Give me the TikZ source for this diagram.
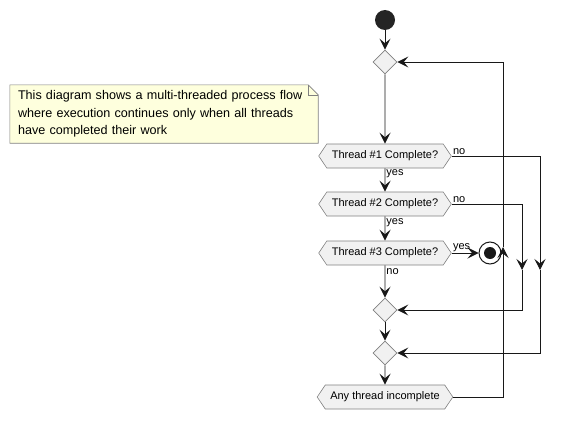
\documentclass[tikz,border=0pt]{standalone}
\usepackage{fontspec}
\setmainfont{Liberation Sans}
\usepackage{tikz}
\usetikzlibrary{backgrounds,shapes.geometric,shapes.symbols,arrows.meta}

\definecolor{ink}{HTML}{181818}
\definecolor{boxfill}{HTML}{F1F1F1}
\definecolor{boxline}{HTML}{808080}
\definecolor{notefill}{HTML}{FEFFDD}

\begin{document}
\begin{tikzpicture}[x=1pt, y=-1pt,
	flow/.style={draw=ink, line width=0.9pt, -{Stealth[length=11pt, width=11pt, inset=4.5pt]}},
	test/.style={signal, signal to=west and east, signal pointer angle=112, draw=boxline, fill=boxfill, line width=0.6pt, minimum height=24pt, inner xsep=5pt, inner ysep=0pt, font=\fontsize{11}{13}\selectfont},
	merge/.style={diamond, aspect=1, draw=boxline, fill=boxfill, line width=0.6pt, minimum width=24pt, minimum height=24pt, inner sep=0pt},
	startdot/.style={circle, fill=ink!95, minimum size=20pt, inner sep=0pt},
	stopring/.style={circle, draw=ink, line width=1pt, fill=white, minimum size=22pt, inner sep=0pt},
	tag/.style={inner sep=1pt, font=\fontsize{11}{13}\selectfont},
	note/.style={text width=292pt, inner xsep=8pt, align=left, minimum height=58pt, font=\fontsize{12.6}{17.5}\selectfont}
]

	\useasboundingbox (0,0) rectangle (564,420);

	\node[note] (info) at (164,114) {This diagram shows a multi-threaded process flow where execution continues only when all threads have completed their work};
	\begin{scope}[on background layer]
		\draw[draw=boxline, fill=notefill, line width=0.6pt] (info.north west) -- ([xshift=-10pt]info.north east) -- ([yshift=-10pt]info.north east) -- (info.south east) -- (info.south west) -- cycle;
		\draw[draw=boxline, line width=0.6pt] ([xshift=-10pt]info.north east) -- ([xshift=-10pt, yshift=-10pt]info.north east) -- ([yshift=-10pt]info.north east);
	\end{scope}

	\node[startdot] (start) at (385,20) {};
	\node[merge] (m1) at (385,62) {};
	\node[test] (t1) at (385,156) {Thread \#1 Complete?};
	\node[test] (t2) at (385,204) {Thread \#2 Complete?};
	\node[test] (t3) at (385,253) {Thread \#3 Complete?};
	\node[stopring] (stop) at (490,253) {};
	\fill[ink] (stop.center) circle (6pt);
	\node[merge] (m2) at (385,310) {};
	\node[merge] (m3) at (385,353) {};
	\node[test] (rep) at (385,397) {Any thread incomplete};

	\coordinate (no1) at (540,270);
	\coordinate (no2) at (522,270);
	\coordinate (back) at (503,247);

	\draw[flow] (start) -- (m1);
	\draw[flow] (m1) -- (t1);
	\draw[flow] (t1) -- node[tag, pos=0.25, anchor=west] {yes} (t2);
	\draw[flow] (t2) -- node[tag, pos=0.25, anchor=west] {yes} (t3);
	\draw[flow] (t3.east) -- node[tag, pos=0, anchor=south west] {yes} (stop);
	\draw[flow] (t3) -- node[tag, pos=0.2, anchor=west] {no} (m2);
	\draw[flow] (m2) -- (m3);
	\draw[flow] (m3) -- (rep);

	\draw[flow] (t1.east) node[tag, anchor=south west] {no} -| (no1);
	\draw[flow] (no1) |- (m3.east);
	\draw[flow] (t2.east) node[tag, anchor=south west] {no} -| (no2);
	\draw[flow] (no2) |- (m2.east);

	\draw[flow] (rep.east) -| (back);
	\draw[flow] (back) |- (m1.east);

\end{tikzpicture}
\end{document}
